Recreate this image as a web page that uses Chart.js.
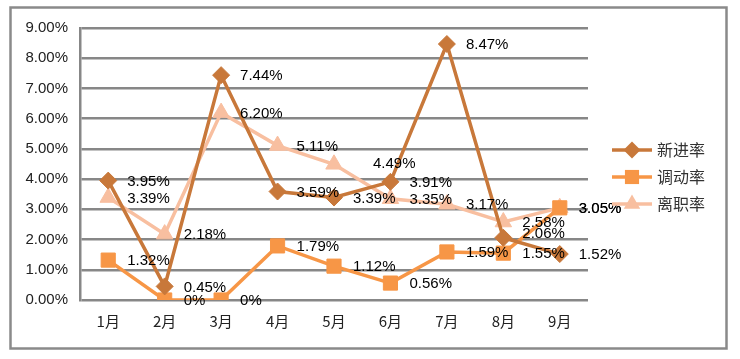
<!DOCTYPE html>
<html>
<head>
<meta charset="utf-8">
<script src="https://cdn.jsdelivr.net/npm/chart.js@4.4.1/dist/chart.umd.min.js"></script>
<style>
  html, body { margin: 0; padding: 0; background: #fff; }
  #wrap { width: 740px; height: 359px; }
</style>
</head>
<body>
<div id="wrap"><canvas id="rateChart"></canvas></div>
<script>
// months and monthly rates (percent)
const months = ['1月', '2月', '3月', '4月', '5月', '6月', '7月', '8月', '9月'];
const newRate = [3.95, 0.45, 7.44, 3.59, 3.39, 3.91, 8.47, 2.06, 1.52];
const moveRate = [1.32, 0, 0, 1.79, 1.12, 0.56, 1.59, 1.55, 3.05];
const leaveRate = [3.39, 2.18, 6.20, 5.11, 4.49, 3.35, 3.17, 2.58, 3.05];
const seriesNames = ['新进率', '调动率', '离职率'];

const numFont = '"Liberation Sans Narrow", "Liberation Sans", sans-serif';
const cjkFont = '"Noto Sans CJK SC", sans-serif';
const gridGray = '#878787';

function pct(v) {
    return v === 0 ? '0%' : v.toFixed(2) + '%';
}

// a couple of labels Excel pushed aside to avoid overlap
const labelNudge = { '2-4': [20, -1], '0-7': [0, -5] };

const frameAndLabels = {
    id: 'frameAndLabels',
    beforeDraw(chart) {
        const c = chart.ctx;
        c.save();
        c.fillStyle = '#fff';
        c.fillRect(0, 0, chart.width, chart.height);
        c.strokeStyle = '#8a8a8a';
        c.lineWidth = 2.5;
        c.strokeRect(10.5, 7.5, 716, 341);
        c.restore();
    },
    afterDatasetsDraw(chart) {
        const c = chart.ctx;
        c.save();
        c.font = '15px ' + numFont;
        c.fillStyle = '#000';
        c.textAlign = 'left';
        c.textBaseline = 'middle';
        chart.data.datasets.forEach((ds, di) => {
            chart.getDatasetMeta(di).data.forEach((pt, i) => {
                const n = labelNudge[di + '-' + i] || [0, 0];
                c.fillText(pct(ds.data[i]), pt.x + 19 + n[0], pt.y + 1 + n[1]);
            });
        });

        // legend: line with marker, then name
        const lx = 612, ly = [150, 177, 204];
        chart.data.datasets.forEach((ds, di) => {
            const y = ly[di];
            c.strokeStyle = ds.borderColor;
            c.lineWidth = 3.5;
            c.beginPath();
            c.moveTo(lx, y);
            c.lineTo(lx + 40, y);
            c.stroke();
            c.fillStyle = ds.borderColor;
            Chart.helpers.drawPoint(c, {
                pointStyle: ds.pointStyle,
                radius: ds.pointRadius,
                rotation: 0,
                borderWidth: 0
            }, lx + 20, y);
            c.fillStyle = '#333';
            c.font = '16px ' + cjkFont;
            c.fillText(seriesNames[di], lx + 45, y);
        });
        c.restore();
    }
};

function series(label, data, color, style, r) {
    return {
        label: label,
        data: data,
        borderColor: color,
        backgroundColor: color,
        borderWidth: 3.5,
        pointStyle: style,
        pointRadius: r,
        pointHoverRadius: r,
        pointBackgroundColor: color,
        pointBorderColor: color,
        pointBorderWidth: 1,
        tension: 0
    };
}

new Chart(document.getElementById('rateChart'), {
    type: 'line',
    data: {
        labels: months,
        datasets: [
            series(seriesNames[0], newRate, '#C8783A', 'rectRot', 8.5),
            series(seriesNames[1], moveRate, '#F79646', 'rect', 10),
            series(seriesNames[2], leaveRate, '#F8BFA0', 'triangle', 9.5)
        ]
    },
    options: {
        responsive: true,
        maintainAspectRatio: false,
        animation: false,
        layout: { padding: { top: 28, right: 152, bottom: 0, left: 0 } },
        plugins: {
            legend: { display: false },
            tooltip: { enabled: false }
        },
        scales: {
            x: {
                offset: true,
                grid: { display: false, drawTicks: false },
                border: { display: false },
                ticks: {
                    color: '#222',
                    padding: 12,
                    font: { family: cjkFont, size: 15 }
                },
                afterFit(scale) { scale.height = 59; }
            },
            y: {
                min: 0,
                max: 9,
                grid: { color: gridGray, lineWidth: 2.5, drawTicks: false },
                border: { display: true, color: gridGray, width: 2.5 },
                ticks: {
                    stepSize: 1,
                    color: '#222',
                    padding: 12,
                    font: { family: numFont, size: 15 },
                    callback: v => v.toFixed(2) + '%'
                },
                afterFit(scale) { scale.width = 80; }
            }
        }
    },
    plugins: [frameAndLabels]
});
</script>
</body>
</html>
